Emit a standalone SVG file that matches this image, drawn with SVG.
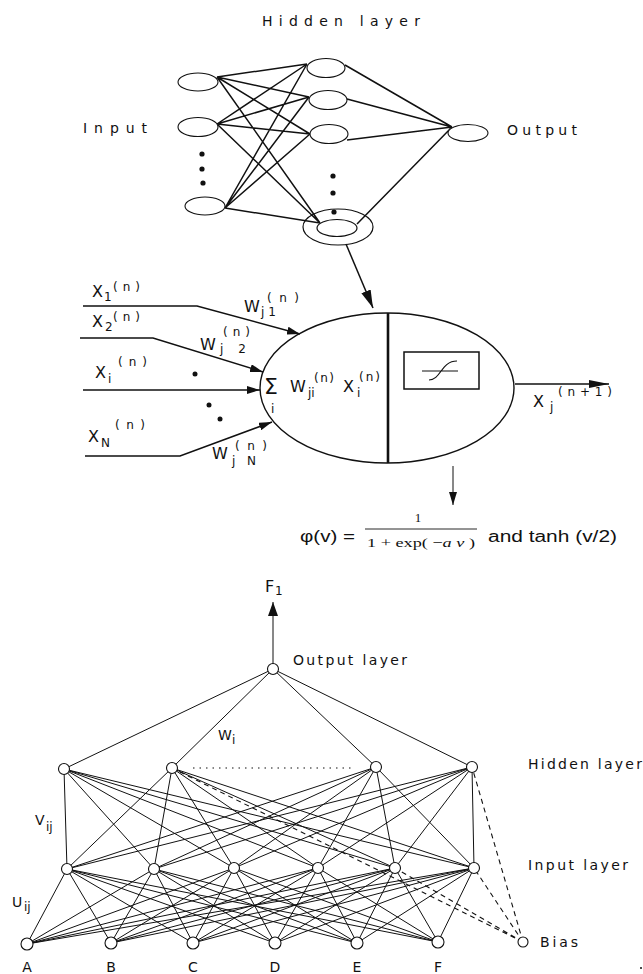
<svg xmlns="http://www.w3.org/2000/svg" width="643" height="974" viewBox="0 0 643 974">
<style>
.t{font-family:"DejaVu Sans",sans-serif;font-size:14px;fill:#111}
.s{font-family:"DejaVu Sans",sans-serif;font-size:12px;fill:#111}
.m{font-family:"DejaVu Sans",sans-serif;font-size:16px;fill:#111}
.node{fill:#fff;stroke:#111;stroke-width:1.1}
.wire{fill:none;stroke:#111;stroke-width:1.5}
.thin{fill:none;stroke:#111;stroke-width:1}
.dash{fill:none;stroke:#111;stroke-width:1.1;stroke-dasharray:5 4}
.dot{fill:#111}
</style>
<defs>
<marker id="ah" markerUnits="userSpaceOnUse" markerWidth="14" markerHeight="8" refX="13" refY="4" orient="auto"><path d="M0,0 L13,4 L0,8 Z" fill="#111"/></marker>
<marker id="ahf" markerUnits="userSpaceOnUse" markerWidth="14" markerHeight="10" refX="14" refY="5" orient="auto"><path d="M0,0 L14,5 L0,10 Z" fill="#111"/></marker>
<marker id="ahb" markerUnits="userSpaceOnUse" markerWidth="18" markerHeight="10" refX="18" refY="5" orient="auto"><path d="M0,0 L18,5 L0,10 Z" fill="#111"/></marker>
<marker id="ahl" markerUnits="userSpaceOnUse" markerWidth="20" markerHeight="8" refX="20" refY="4" orient="auto"><path d="M0,0 L20,4 L0,8 Z" fill="#111"/></marker>
</defs>
<rect width="643" height="974" fill="#fff"/>

<!-- ===== Top network ===== -->
<g id="connectors-top">
<path class="wire" d="M217 77L307 64M217 77L309 97M217 77L310 134M217 77L320 223M217 124L307 64M217 124L309 97M217 124L310 134M217 124L320 223M225 208L307 64M225 208L309 97M225 208L310 134M225 208L320 223M345 65L452 127M347 99L452 127M347 140L452 127M357 224L452 127"/>
<path class="wire" d="M346 244L373 308" marker-end="url(#ahb)"/>
</g>
<text class="t" x="262" y="26" textLength="158" lengthAdjust="spacing" font-size="13">Hidden layer</text>
<text class="t" x="83" y="133" textLength="64" lengthAdjust="spacing">Input</text>
<text class="t" x="507" y="135" textLength="70" lengthAdjust="spacing" font-size="13">Output</text>
<g id="top-in1"><ellipse class="node" cx="198" cy="82" rx="20" ry="9"/></g>
<g id="top-in2"><ellipse class="node" cx="198" cy="127" rx="20" ry="9.5"/></g>
<g id="top-in3"><ellipse class="node" cx="205" cy="206" rx="20" ry="9"/></g>
<g id="top-in-dots"><circle class="dot" cx="202" cy="154" r="2.6"/><circle class="dot" cx="202" cy="169" r="2.6"/><circle class="dot" cx="203" cy="183" r="2.6"/></g>
<g id="top-h1"><ellipse class="node" cx="326" cy="68" rx="19" ry="9.5"/></g>
<g id="top-h2"><ellipse class="node" cx="328" cy="100" rx="19" ry="9.5"/></g>
<g id="top-h3"><ellipse class="node" cx="329" cy="134" rx="19" ry="9.5"/></g>
<g id="top-h-dots"><circle class="dot" cx="333" cy="176" r="2.6"/><circle class="dot" cx="333" cy="193" r="2.6"/><circle class="dot" cx="334" cy="212" r="2.6"/></g>
<g id="top-hj"><ellipse cx="338" cy="227" rx="35" ry="18" fill="none" stroke="#111" stroke-width="1.2"/><ellipse cx="337" cy="228" rx="20" ry="8.5" fill="none" stroke="#111" stroke-width="1.2"/></g>
<g id="top-out"><ellipse class="node" cx="468" cy="133" rx="20" ry="8.5"/></g>

<!-- ===== Neuron ===== -->
<g id="connectors-neuron">
<path class="wire" d="M83 306H197L300 334" marker-end="url(#ah)"/>
<path class="wire" d="M80 338H153L263 372" marker-end="url(#ah)"/>
<path class="wire" d="M83 390H260" marker-end="url(#ah)"/>
<path class="wire" d="M85 456H180L272 422" marker-end="url(#ah)"/>
<path class="wire" d="M515 384H609" marker-end="url(#ahl)"/>
<path class="thin" d="M453 466V505" marker-end="url(#ah)"/>
</g>
<g id="neuron">
<ellipse cx="387" cy="388" rx="127" ry="75" fill="none" stroke="#111" stroke-width="1.4"/>
<path d="M388 313V463" stroke="#111" stroke-width="2.6"/>
<rect x="404" y="352" width="75" height="37" fill="none" stroke="#111" stroke-width="1.5"/>
<path d="M422 371H458M429 380C441 380 441 361 457 361" fill="none" stroke="#111" stroke-width="1.2"/>
<text x="264" y="394" font-family="DejaVu Sans,sans-serif" font-size="22" fill="#111">Σ</text>
<text class="s" x="271" y="413" font-size="11">i</text>
<text class="m" x="290" y="392">W</text>
<text class="s" x="308" y="397" font-size="11">ji</text>
<text class="s" x="314" y="382" textLength="20" lengthAdjust="spacing">(n)</text>
<text class="m" x="343" y="392">X</text>
<text class="s" x="357" y="397" font-size="11">i</text>
<text class="s" x="359" y="381" textLength="21" lengthAdjust="spacing">(n)</text>
</g>
<g id="neuron-labels">
<circle class="dot" cx="195" cy="374" r="2.5"/><circle class="dot" cx="209" cy="405" r="2.5"/><circle class="dot" cx="220" cy="419" r="2.5"/>
<text class="m" x="92" y="297">X</text><text class="s" x="104" y="301">1</text><text class="s" x="113" y="291" textLength="27" lengthAdjust="spacing">(n)</text>
<text class="m" x="92" y="327">X</text><text class="s" x="105" y="331">2</text><text class="s" x="113" y="321" textLength="27" lengthAdjust="spacing">(n)</text>
<text class="m" x="95" y="378">X</text><text class="s" x="108" y="383">i</text><text class="s" x="118" y="366" textLength="29" lengthAdjust="spacing">(n)</text>
<text class="m" x="88" y="442">X</text><text class="s" x="101" y="447">N</text><text class="s" x="115" y="429" textLength="30" lengthAdjust="spacing">(n)</text>
<text class="m" x="244" y="312">W</text><text class="s" x="261" y="316" textLength="15" lengthAdjust="spacing">j1</text><text class="s" x="267" y="302" textLength="32" lengthAdjust="spacing">(n)</text>
<text class="m" x="200" y="350">W</text><text class="s" x="220" y="353" textLength="26" lengthAdjust="spacing">j 2</text><text class="s" x="223" y="336" textLength="27" lengthAdjust="spacing">(n)</text>
<text class="m" x="212" y="459">W</text><text class="s" x="232" y="465" textLength="24" lengthAdjust="spacing">jN</text><text class="s" x="235" y="450" textLength="32" lengthAdjust="spacing">(n)</text>
<text class="m" x="533" y="407">X</text><text class="s" x="550" y="411">j</text><text class="s" x="558" y="396" textLength="54" lengthAdjust="spacing">(n+1)</text>
</g>
<g id="formula">
<text x="300" y="542" font-family="Liberation Sans,Arial,sans-serif" font-size="16" fill="#111" textLength="55" lengthAdjust="spacingAndGlyphs">φ(v) =</text>
<text x="418" y="522" font-family="Liberation Serif,serif" font-size="13" fill="#111" text-anchor="middle">1</text>
<path d="M365 529H477" stroke="#111" stroke-width="0.9"/>
<text x="367" y="547" font-family="Liberation Serif,serif" font-size="13" fill="#111" textLength="108" lengthAdjust="spacingAndGlyphs">1 + exp( −<tspan font-style="italic">a ν</tspan> )</text>
<text x="488" y="542" font-family="Liberation Sans,Arial,sans-serif" font-size="16" fill="#111" textLength="129" lengthAdjust="spacingAndGlyphs">and tanh (v/2)</text>
</g>

<!-- ===== Bottom network ===== -->
<g id="connectors-bottom">
<path class="thin" d="M273 664V602" marker-end="url(#ahf)"/>
<path class="thin" d="M273 669L64 769M273 669L172 768M273 669L376 767M273 669L472 767"/>
<path class="thin" d="M64 769L67 869M64 769L154 869M64 769L234 868M64 769L318 868M64 769L395 868M64 769L474 868M172 768L67 869M172 768L154 869M172 768L234 868M172 768L318 868M172 768L395 868M172 768L474 868M376 767L67 869M376 767L154 869M376 767L234 868M376 767L318 868M376 767L395 868M376 767L474 868M472 767L67 869M472 767L154 869M472 767L234 868M472 767L318 868M472 767L395 868M472 767L474 868"/>
<path class="thin" d="M67 869L27 944M67 869L111 943M67 869L193 943M67 869L275 943M67 869L357 943M67 869L438 942M154 869L27 944M154 869L111 943M154 869L193 943M154 869L275 943M154 869L357 943M154 869L438 942M234 868L27 944M234 868L111 943M234 868L193 943M234 868L275 943M234 868L357 943M234 868L438 942M318 868L27 944M318 868L111 943M318 868L193 943M318 868L275 943M318 868L357 943M318 868L438 942M395 868L27 944M395 868L111 943M395 868L193 943M395 868L275 943M395 868L357 943M395 868L438 942M474 868L27 944M474 868L111 943M474 868L193 943M474 868L275 943M474 868L357 943M474 868L438 942"/>
<path class="dash" d="M523 942L172 768M523 942L472 767M523 942L395 868M523 942L474 868"/>
<path d="M193 768H353" stroke="#111" stroke-width="1.2" stroke-dasharray="1.5 5"/>
</g>
<text class="m" x="265" y="592" font-size="14">F</text><text class="s" x="275" y="595" font-size="11">1</text>
<text class="t" x="293" y="665" textLength="114" lengthAdjust="spacing">Output layer</text>
<text class="t" x="528" y="769" textLength="114" lengthAdjust="spacing">Hidden layer</text>
<text class="t" x="528" y="870" textLength="100" lengthAdjust="spacing">Input layer</text>
<text class="t" x="218" y="740">W</text><text class="s" x="232" y="744" font-size="11">i</text>
<text class="t" x="35" y="825">V</text><text class="s" x="46" y="831" font-size="11">ij</text>
<text class="t" x="12" y="907">U</text><text class="s" x="24" y="911" font-size="11">ij</text>
<g id="out1"><circle class="node" cx="273" cy="669" r="5.5"/></g>
<g id="hid1"><circle class="node" cx="64" cy="769" r="5.5"/></g>
<g id="hid2"><circle class="node" cx="172" cy="768" r="5.5"/></g>
<g id="hid3"><circle class="node" cx="376" cy="767" r="5.5"/></g>
<g id="hid4"><circle class="node" cx="472" cy="767" r="5.5"/></g>
<g id="in1"><circle class="node" cx="67" cy="869" r="5.5"/></g>
<g id="in2"><circle class="node" cx="154" cy="869" r="5.5"/></g>
<g id="in3"><circle class="node" cx="234" cy="868" r="5.5"/></g>
<g id="in4"><circle class="node" cx="318" cy="868" r="5.5"/></g>
<g id="in5"><circle class="node" cx="395" cy="868" r="5.5"/></g>
<g id="in6"><circle class="node" cx="474" cy="868" r="5.5"/></g>
<g id="A"><circle class="node" cx="27" cy="944" r="6"/><text class="t" x="27" y="972" text-anchor="middle">A</text></g>
<g id="B"><circle class="node" cx="111" cy="943" r="6"/><text class="t" x="111" y="972" text-anchor="middle">B</text></g>
<g id="C"><circle class="node" cx="193" cy="943" r="6"/><text class="t" x="193" y="972" text-anchor="middle">C</text></g>
<g id="D"><circle class="node" cx="275" cy="943" r="6"/><text class="t" x="275" y="972" text-anchor="middle">D</text></g>
<g id="E"><circle class="node" cx="357" cy="943" r="6"/><text class="t" x="357" y="972" text-anchor="middle">E</text></g>
<g id="F"><circle class="node" cx="438" cy="942" r="6"/><text class="t" x="438" y="972" text-anchor="middle">F</text></g>
<g id="bias"><circle class="node" cx="523" cy="942" r="5"/><text class="t" x="540" y="947" textLength="38" lengthAdjust="spacing">Bias</text></g>
<circle cx="641" cy="968" r="1" fill="#111"/>
</svg>
